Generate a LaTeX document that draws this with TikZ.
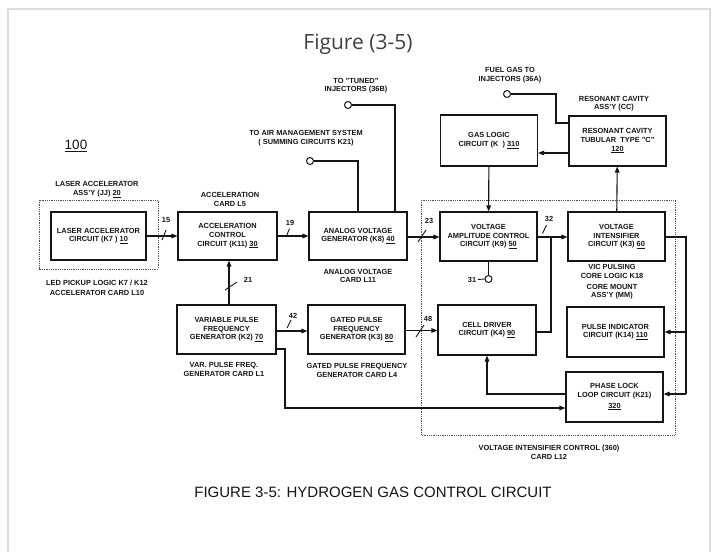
\documentclass[tikz,border=0pt]{standalone}
\usepackage{fontspec}
\setmainfont{Liberation Sans}
\newfontfamily\titlefont{Open Sans}
\usetikzlibrary{arrows.meta}
\definecolor{ink}{HTML}{151515}
\definecolor{framegray}{HTML}{DDDDDD}
\newcommand\smallcaplab{\bfseries\fontsize{7.4}{8.6}\selectfont}
\begin{document}
\begin{tikzpicture}[x=1pt,y=-1pt,
  box/.style={draw=ink,line width=1.1pt,minimum width=97pt,minimum height=49pt,inner sep=0pt,align=center,font=\smallcaplab,text=ink},
  lbl/.style={align=center,font=\smallcaplab,text=ink,inner sep=0pt},
  conn/.style={draw=ink,line width=1.1pt},
  arr/.style={conn,-{Triangle[length=6pt,width=4.6pt]}},
  dotbox/.style={draw=ink!75,line width=0.8pt,densely dotted},
  term/.style={circle,draw=ink,line width=1pt,minimum size=7pt,inner sep=0pt,fill=white},
  tick/.style={draw=ink,line width=0.9pt}
]
\useasboundingbox[fill=white] (0,0) rectangle (715,552);
% frame
\draw[framegray,line width=1.8pt] (8,552) -- (8,8.7) -- (710.3,8.7) -- (710.3,552);

% title and caption
\node[font=\titlefont\fontsize{21}{24}\selectfont,text=black!75,inner sep=0pt] (title) at (358,44) {Figure (3-5)};
\node[font=\fontsize{15}{17}\selectfont,text=ink,inner sep=0pt] (caption) at (373,492) {FIGURE 3-5: HYDROGEN GAS CONTROL CIRCUIT};
\node[font=\fontsize{13.5}{15}\selectfont,text=ink,inner sep=0pt] (hundred) at (76,146) {\underline{100}};

% dotted assemblies
\draw[dotbox] (39,200) rectangle (158,269);
\draw[dotbox] (421,200) rectangle (675,435);

% boxes
\node[box,minimum width=95pt,minimum height=48pt] (la) at (98.5,236) {LASER ACCELERATOR\\CIRCUIT (K7 ) \underline{10}};
\node[box,minimum width=99pt,minimum height=48pt] (ac) at (227.5,236) {ACCELERATION\\CONTROL\\CIRCUIT (K11) \underline{30}};
\node[box,minimum width=98pt,minimum height=48pt] (avg) at (358,236) {ANALOG VOLTAGE\\GENERATOR (K8) \underline{40}};
\node[box] (vac) at (488.5,236.5) {VOLTAGE\\AMPLITUDE CONTROL\\CIRCUIT (K9) \underline{50}};
\node[box] (vi) at (616.5,236.5) {VOLTAGE\\INTENSIFIER\\CIRCUIT (K3) \underline{60}};
\node[box,minimum height=51pt] (gl) at (489,140.5) {GAS LOGIC\\CIRCUIT (K~~) \underline{310}};
\node[box,minimum height=50pt] (rc) at (617.5,141) {RESONANT CAVITY\\TUBULAR~~TYPE "C"\\\underline{120}};
\node[box,minimum width=99pt] (vpfg) at (226.5,329.5) {VARIABLE PULSE\\FREQUENCY\\GENERATOR (K2) \underline{70}};
\node[box] (gpfg) at (356.5,329.5) {GATED PULSE\\FREQUENCY\\GENERATOR (K3) \underline{80}};
\node[box,minimum width=98pt,minimum height=50pt] (cd) at (487,330) {CELL DRIVER\\CIRCUIT (K4) \underline{90}};
\node[box,minimum height=50pt] (pi) at (615.5,332) {PULSE INDICATOR\\CIRCUIT (K14) \underline{110}};
\node[box,minimum height=50pt] (pll) at (614.5,397) {PHASE LOCK\\LOOP CIRCUIT (K21)\\[2pt]\underline{320}};

% outside labels
\node[lbl] (l20) at (97,189.5) {LASER ACCELERATOR\\ASS'Y (JJ) \underline{20}};
\node[lbl,font=\bfseries\fontsize{7.4}{10}\selectfont] (l10) at (97,288) {LED PICKUP LOGIC K7 / K12\\ACCELERATOR CARD L10};
\node[lbl] (l5) at (230,199.5) {ACCELERATION\\CARD L5};
\node[lbl] (lair) at (306,138) {TO AIR MANAGEMENT SYSTEM\\( SUMMING CIRCUITS K21)};
\node[lbl] (ltuned) at (356,85.5) {TO "TUNED"\\INJECTORS (36B)};
\node[lbl] (lfuel) at (510,75) {FUEL GAS TO\\INJECTORS (36A)};
\node[lbl] (lcc) at (614,103.5) {RESONANT CAVITY\\ASS'Y (CC)};
\node[lbl] (l11) at (358,276) {ANALOG VOLTAGE\\CARD L11};
\node[lbl] (l18) at (612,271.5) {VIC PULSING\\CORE LOGIC K18};
\node[lbl] (lmm) at (612,291.5) {CORE MOUNT\\ASS'Y (MM)};
\node[lbl] (l1) at (224,369.5) {VAR. PULSE FREQ.\\GENERATOR CARD L1};
\node[lbl] (l4) at (357,370.5) {GATED PULSE FREQUENCY\\GENERATOR CARD L4};
\node[lbl] (l12) at (549,452.5) {VOLTAGE INTENSIFIER CONTROL (360)\\CARD L12};

% terminals
\node[term] (t36b) at (348,105) {};
\node[term] (tair) at (310,161) {};
\node[term] (t36a) at (507,94) {};
\node[term] (t31) at (488.5,279) {};
\node[lbl] (n31) at (472,279.5) {31};
\draw[conn,line width=0.9pt] (n31.east) ++(1.5,0) -- (t31.west);

% connectors
\draw[arr] (la) -- (ac);
\draw[arr] (ac) -- (avg);
\draw[arr] (avg.east |- 0,237) -- (vac.west |- 0,237);
\draw[arr] (vac.east |- 0,237) -- (vi.west |- 0,237);
\draw[arr] (gl) -- (vac);
\draw[arr] (vi) -- (rc);
\draw[arr] (rc.west |- 0,153) -- (gl.east |- 0,153);
\draw[arr] (vpfg.north -| 229,0) -- (ac.south -| 229,0);
\draw[arr] (vpfg.east |- 0,331) -- (gpfg.west |- 0,331);
\draw[arr] (gpfg.east |- 0,330.5) -- (cd.west |- 0,330.5);
\draw[conn] (vac) -- (t31);
\draw[conn] (t36b) -| ([xshift=37pt]avg.north);
\draw[conn] (tair) -| (avg.north);
\coordinate (fa) at (556,94);
\coordinate (fb) at (556,123);
\draw[conn] (t36a) -- (fa) -- (fb) -- (rc.west |- fb);
\coordinate (j32) at (551,237);
\draw[conn] (cd.east |- 0,332) -| (j32);
\coordinate (rtop) at (686,237);
\coordinate (rpi) at (686,332);
\coordinate (rpll) at (686,394);
\draw[conn] (vi.east |- rtop) -- (rtop) -- (rpll);
\draw[arr] (rpi) -- (pi.east |- rpi);
\draw[arr] (rpll) -- (pll.east |- rpll);
\draw[arr] (pll.west |- rpll) -| (cd.south);
\coordinate (va) at (285,349);
\coordinate (vb) at (285,408);
\draw[arr] (vpfg.east |- va) -- (va) -- (vb) -- (pll.west |- vb);

% signal numbers with ticks
\node[lbl] (n15) at (166,219.5) {15};
\draw[tick] (162,240) -- (166,230);
\node[lbl] (n19) at (290,222.5) {19};
\draw[tick] (286.5,236) -- (289.5,228.5);
\node[lbl] (n21) at (248,279.5) {21};
\draw[tick] (225,290) -- (237,282);
\node[lbl] (n23) at (429,220.5) {23};
\draw[tick] (418,242) -- (426,230);
\node[lbl] (n32) at (549,218.5) {32};
\draw[tick] (542.5,233.5) -- (546.5,225);
\node[lbl] (n42) at (293,315.5) {42};
\draw[tick] (287,328) -- (291,320);
\node[lbl] (n48) at (428,318.5) {48};
\draw[tick] (416,337) -- (424,325);
\end{tikzpicture}
\end{document}
